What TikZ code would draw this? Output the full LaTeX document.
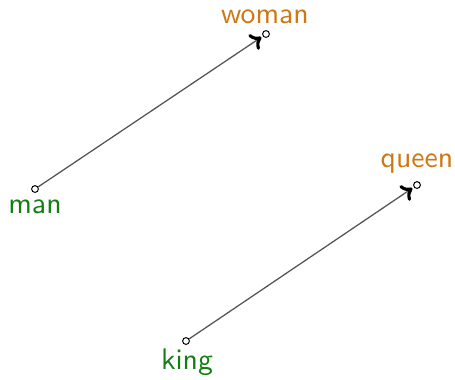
\documentclass[tikz,border=0pt]{standalone}
\usetikzlibrary{arrows.meta}
\definecolor{wgreen}{RGB}{20,125,20}
\definecolor{worange}{RGB}{205,120,20}
\definecolor{lgray}{RGB}{85,85,85}
\begin{document}
\begin{tikzpicture}[x=0.353pt,y=-0.353pt,
  pt/.style={circle,draw=black,fill=white,inner sep=0pt,minimum size=2.4pt,line width=0.35pt},
  vec/.style={draw=lgray,line width=0.45pt,shorten >=0.6pt,
    -{To[length=3.6pt,width=6.5pt,line width=1.1pt,color=black]}},
  lab/.style={font=\sffamily\fontsize{10.5}{12}\selectfont,inner sep=0pt}]
\useasboundingbox (0,0) rectangle (455,379);
\node[pt] (man) at (35,189) {};
\node[pt] (woman) at (266,34) {};
\node[pt] (king) at (186,341) {};
\node[pt] (queen) at (417,185) {};
\draw[vec] (man) -- (woman);
\draw[vec] (king) -- (queen);
\node[lab,text=wgreen] (lman) at (35,207) {man};
\node[lab,text=worange] (lwoman) at (265,17) {woman};
\node[lab,text=wgreen] (lking) at (187,362) {king};
\node[lab,text=worange] (lqueen) at (417,164) {queen};
\end{tikzpicture}
\end{document}
